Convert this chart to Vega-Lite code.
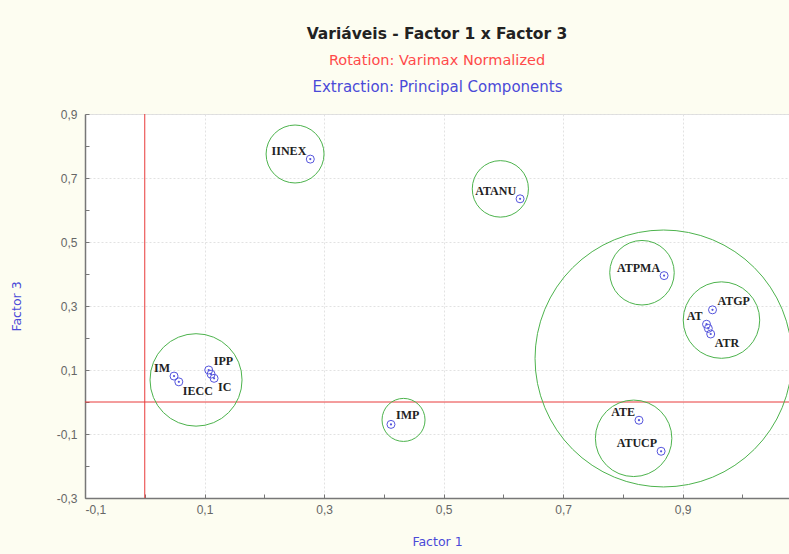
{
  "$schema": "https://vega.github.io/schema/vega-lite/v6.json",
  "width": 704,
  "height": 384,
  "autosize": {"type": "none"},
  "padding": {"left": 85, "top": 114, "right": 0, "bottom": 56},
  "background": "#FDFDF1",
  "config": {"view": {"fill": "#ffffff", "stroke": "#dddddd"}, "font": "Liberation Sans"},
  "title": {
    "text": "Variáveis - Factor 1 x Factor 3",
    "subtitle": "Rotation: Varimax Normalized",
    "font": "DejaVu Sans", "fontSize": 15.5, "fontWeight": "bold", "color": "#222222",
    "subtitleFont": "DejaVu Sans", "subtitleFontSize": 14.5, "subtitleColor": "#ff4a4a",
    "subtitlePadding": 11, "anchor": "middle", "offset": 12
  },
  "datasets": {
    "points": [
      {"label": "IINEX", "f1": 0.277, "f3": 0.759},
      {"label": "ATANU", "f1": 0.628, "f3": 0.635},
      {"label": "ATPMA", "f1": 0.869, "f3": 0.395},
      {"label": "ATGP", "f1": 0.950, "f3": 0.288},
      {"label": "AT", "f1": 0.940, "f3": 0.243},
      {"label": "", "f1": 0.943, "f3": 0.230},
      {"label": "ATR", "f1": 0.947, "f3": 0.2125},
      {"label": "ATE", "f1": 0.827, "f3": -0.057},
      {"label": "ATUCP", "f1": 0.864, "f3": -0.154},
      {"label": "IMP", "f1": 0.412, "f3": -0.070},
      {"label": "IM", "f1": 0.049, "f3": 0.081},
      {"label": "IECC", "f1": 0.057, "f3": 0.063},
      {"label": "IPP", "f1": 0.107, "f3": 0.100},
      {"label": "", "f1": 0.111, "f3": 0.087},
      {"label": "IC", "f1": 0.116, "f3": 0.074}
    ],
    "clusters": [
      {"f1": 0.2515, "f3": 0.775, "r": 0.0485},
      {"f1": 0.595, "f3": 0.666, "r": 0.047},
      {"f1": 0.832, "f3": 0.404, "r": 0.054},
      {"f1": 0.965, "f3": 0.256, "r": 0.064},
      {"f1": 0.818, "f3": -0.1135, "r": 0.064},
      {"f1": 0.433, "f3": -0.056, "r": 0.036},
      {"f1": 0.0858, "f3": 0.069, "r": 0.077},
      {"f1": 0.868, "f3": 0.136, "r": 0.215}
    ]
  },
  "resolve": {"axis": {"x": "independent", "y": "independent"}},
  "layer": [
    {
      "data": {"name": "points"},
      "mark": {"type": "point", "shape": "circle", "filled": false, "size": 64, "stroke": "#5555dd", "strokeWidth": 1, "opacity": 1},
      "encoding": {
        "x": {"field": "f1", "type": "quantitative",
          "scale": {"domain": [-0.1, 1.078], "nice": false, "zero": false},
          "axis": {"values": [-0.1, 0, 0.1, 0.2, 0.3, 0.4, 0.5, 0.6, 0.7, 0.8, 0.9, 1.0],
            "format": ".1f",
            "labelExpr": "abs(round(datum.value*10)) % 2 == 1 ? replace(replace(datum.label, '.', ','), '\u2212', '-') : ''",
            "labelFont": "Liberation Sans", "labelFontSize": 12, "labelColor": "#666666", "labelPadding": 10,
            "ticks": true, "tickSize": -4, "tickColor": "#777777",
            "domainColor": "#777777", "domainWidth": 1.5,
            "grid": true, "gridColor": "#e2e2e2", "gridDash": [2, 2],
            "gridOpacity": {"condition": {"test": "abs(round(datum.value*10)) % 2 == 1", "value": 1}, "value": 0},
            "title": "Factor 1", "titleFont": "DejaVu Sans", "titleFontSize": 12.5, "titleFontWeight": "normal", "titleColor": "#4a4ad8", "titlePadding": 20}},
        "y": {"field": "f3", "type": "quantitative",
          "scale": {"domain": [-0.3, 0.9], "nice": false, "zero": false},
          "axis": {"values": [-0.3, -0.2, -0.1, 0, 0.1, 0.2, 0.3, 0.4, 0.5, 0.6, 0.7, 0.8, 0.9],
            "format": ".1f",
            "labelExpr": "abs(round(datum.value*10)) % 2 == 1 ? replace(replace(datum.label, '.', ','), '\u2212', '-') : ''",
            "labelFont": "Liberation Sans", "labelFontSize": 12, "labelColor": "#666666", "labelPadding": 12,
            "ticks": true, "tickSize": -4, "tickColor": "#777777",
            "domainColor": "#777777", "domainWidth": 1.5,
            "grid": true, "gridColor": "#e2e2e2", "gridDash": [2, 2],
            "gridOpacity": {"condition": {"test": "abs(round(datum.value*10)) % 2 == 1", "value": 1}, "value": 0},
            "title": "Factor 3", "titleFont": "DejaVu Sans", "titleFontSize": 12.5, "titleFontWeight": "normal", "titleColor": "#4a4ad8", "titlePadding": 33}}
      }
    },
    {
      "data": {"name": "points"},
      "mark": {"type": "point", "shape": "circle", "filled": true, "size": 5, "color": "#5555dd", "opacity": 1},
      "encoding": {
        "x": {"field": "f1", "type": "quantitative", "scale": {"domain": [-0.1, 1.078], "nice": false, "zero": false},
          "axis": {"orient": "top", "labels": false, "ticks": false, "domain": false, "grid": false,
            "title": "Extraction: Principal Components", "titleFont": "DejaVu Sans", "titleFontSize": 15, "titleFontWeight": "normal", "titleColor": "#4a4ad8", "titlePadding": 20}},
        "y": {"field": "f3", "type": "quantitative", "scale": {"domain": [-0.3, 0.9], "nice": false, "zero": false}, "axis": null}
      }
    },
    {
      "data": {"values": [{}]},
      "mark": {"type": "rule", "color": "#e83a3a", "strokeWidth": 1},
      "encoding": {"x": {"datum": 0, "type": "quantitative", "axis": null}}
    },
    {
      "data": {"values": [{}]},
      "mark": {"type": "rule", "color": "#e83a3a", "strokeWidth": 1},
      "encoding": {"y": {"datum": 0, "type": "quantitative", "axis": null}}
    },
    {
      "data": {"name": "clusters"},
      "mark": {"type": "point", "shape": "circle", "filled": false, "stroke": "#4db34d", "strokeWidth": 1, "opacity": 1, "clip": true},
      "encoding": {
        "x": {"field": "f1", "type": "quantitative", "scale": {"domain": [-0.1, 1.078], "nice": false, "zero": false}, "axis": null},
        "y": {"field": "f3", "type": "quantitative", "scale": {"domain": [-0.3, 0.9], "nice": false, "zero": false}, "axis": null},
        "size": {"field": "r", "type": "quantitative", "scale": {"type": "pow", "exponent": 2, "domain": [0, 1], "range": [0, 1428025]}, "legend": null}
      }
    },
    {
      "data": {"name": "points"},
      "transform": [{"filter": {"field": "label", "oneOf": ["IINEX", "ATANU", "ATPMA", "AT", "ATE", "ATUCP", "IM"]}}],
      "mark": {"type": "text", "font": "Liberation Serif", "fontWeight": "bold", "fontSize": 12, "color": "#222222", "align": "right", "baseline": "middle", "dx": -4, "dy": -8},
      "encoding": {
        "x": {"field": "f1", "type": "quantitative", "scale": {"domain": [-0.1, 1.078], "nice": false, "zero": false}, "axis": null},
        "y": {"field": "f3", "type": "quantitative", "scale": {"domain": [-0.3, 0.9], "nice": false, "zero": false}, "axis": null},
        "text": {"field": "label"}
      }
    },
    {
      "data": {"name": "points"},
      "transform": [{"filter": {"field": "label", "oneOf": ["IPP", "ATGP", "IMP"]}}],
      "mark": {"type": "text", "font": "Liberation Serif", "fontWeight": "bold", "fontSize": 12, "color": "#222222", "align": "left", "baseline": "middle", "dx": 5, "dy": -9},
      "encoding": {
        "x": {"field": "f1", "type": "quantitative", "scale": {"domain": [-0.1, 1.078], "nice": false, "zero": false}, "axis": null},
        "y": {"field": "f3", "type": "quantitative", "scale": {"domain": [-0.3, 0.9], "nice": false, "zero": false}, "axis": null},
        "text": {"field": "label"}
      }
    },
    {
      "data": {"name": "points"},
      "transform": [{"filter": {"field": "label", "oneOf": ["IC", "ATR", "IECC"]}}],
      "mark": {"type": "text", "font": "Liberation Serif", "fontWeight": "bold", "fontSize": 12, "color": "#222222", "align": "left", "baseline": "middle", "dx": 4, "dy": 9},
      "encoding": {
        "x": {"field": "f1", "type": "quantitative", "scale": {"domain": [-0.1, 1.078], "nice": false, "zero": false}, "axis": null},
        "y": {"field": "f3", "type": "quantitative", "scale": {"domain": [-0.3, 0.9], "nice": false, "zero": false}, "axis": null},
        "text": {"field": "label"}
      }
    }
  ]
}
